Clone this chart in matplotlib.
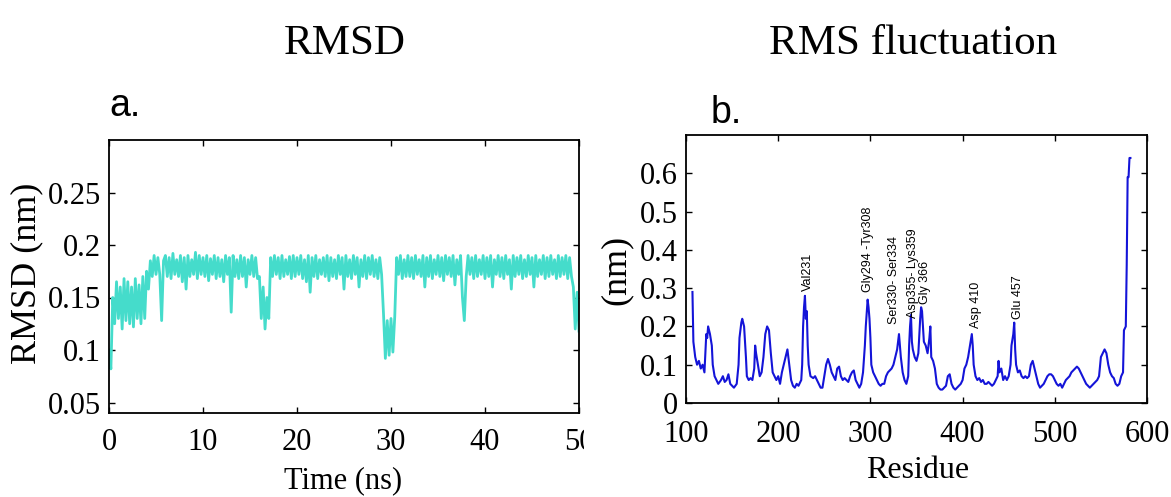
import numpy as np
import matplotlib.pyplot as plt
from matplotlib.patches import Rectangle

# RMSD trace, one value every 0.2 ns
rmsd_nm = [
    0.100, 0.082, 0.150, 0.125, 0.165, 0.130, 0.160, 0.120, 0.168, 0.128,
    0.165, 0.125, 0.160, 0.122, 0.168, 0.130, 0.162, 0.125, 0.170, 0.130,
    0.175, 0.158, 0.185, 0.170, 0.190, 0.172, 0.188, 0.172, 0.128, 0.185,
    0.190, 0.170, 0.188, 0.168, 0.192, 0.172, 0.186, 0.170, 0.190, 0.165,
    0.188, 0.158, 0.190, 0.170, 0.186, 0.172, 0.193, 0.168, 0.190, 0.172,
    0.188, 0.170, 0.190, 0.166, 0.187, 0.172, 0.190, 0.168, 0.188, 0.170,
    0.186, 0.165, 0.190, 0.172, 0.188, 0.136, 0.190, 0.170, 0.186, 0.168,
    0.190, 0.170, 0.188, 0.160, 0.186, 0.172, 0.190, 0.170, 0.188, 0.168,
    0.170, 0.130, 0.160, 0.120, 0.150, 0.130, 0.188, 0.170, 0.190, 0.172,
    0.188, 0.168, 0.190, 0.170, 0.186, 0.172, 0.189, 0.168, 0.190, 0.170,
    0.188, 0.172, 0.190, 0.168, 0.186, 0.165, 0.190, 0.155, 0.188, 0.170,
    0.190, 0.168, 0.186, 0.172, 0.188, 0.170, 0.190, 0.166, 0.188, 0.170,
    0.186, 0.168, 0.190, 0.172, 0.188, 0.158, 0.190, 0.170, 0.186, 0.168,
    0.190, 0.172, 0.188, 0.160, 0.186, 0.170, 0.190, 0.168, 0.188, 0.172,
    0.190, 0.170, 0.186, 0.168, 0.188, 0.172, 0.135, 0.092, 0.128, 0.095,
    0.130, 0.098, 0.132, 0.188, 0.172, 0.190, 0.168, 0.186, 0.170, 0.190,
    0.170, 0.188, 0.168, 0.190, 0.172, 0.186, 0.170, 0.190, 0.160, 0.188,
    0.170, 0.190, 0.168, 0.186, 0.172, 0.190, 0.170, 0.188, 0.166, 0.190,
    0.172, 0.188, 0.170, 0.190, 0.162, 0.186, 0.172, 0.190, 0.150, 0.128,
    0.170, 0.190, 0.172, 0.188, 0.168, 0.190, 0.170, 0.186, 0.172, 0.190,
    0.168, 0.188, 0.170, 0.190, 0.160, 0.186, 0.172, 0.190, 0.170, 0.188,
    0.168, 0.190, 0.172, 0.186, 0.158, 0.190, 0.170, 0.188, 0.172, 0.190,
    0.168, 0.186, 0.170, 0.190, 0.172, 0.188, 0.160, 0.190, 0.170, 0.186,
    0.172, 0.190, 0.168, 0.188, 0.170, 0.190, 0.172, 0.186, 0.168, 0.190,
    0.170, 0.188, 0.172, 0.190, 0.168, 0.188, 0.170, 0.160, 0.120, 0.155,
    0.118,
]
time_ns = np.arange(len(rmsd_nm)) * 0.2

# RMS fluctuation per residue
residue = [
    107, 108, 110, 112, 114, 116, 118, 120, 122, 123, 124, 126, 128, 129, 131, 133,
    135, 138, 140, 142, 144, 146, 148, 150, 152, 155, 157, 158, 160, 161, 163, 165,
    166, 168, 170, 172, 174, 175, 176, 178, 180, 182, 184, 186, 188, 190, 192, 194,
    196, 198, 200, 202, 204, 206, 208, 210, 212, 214, 216, 218, 220, 222, 225, 226,
    227, 228, 229, 230, 231, 232, 233, 235, 238, 240, 242, 244, 246, 248, 250, 252,
    254, 256, 258, 260, 262, 264, 266, 268, 270, 272, 274, 276, 278, 280, 282, 284,
    286, 288, 290, 292, 294, 295, 297, 298, 299, 300, 301, 303, 305, 307, 309, 311,
    313, 315, 317, 319, 321, 323, 325, 327, 329, 331, 332, 333, 335, 337, 339, 341,
    342, 343, 344, 345, 346, 348, 350, 352, 354, 355, 356, 357, 358, 360, 362, 364,
    365, 366, 368, 370, 372, 374, 376, 378, 380, 382, 384, 386, 388, 390, 392, 394,
    396, 398, 400, 402, 404, 406, 408, 410, 411, 412, 414, 416, 418, 420, 422, 424,
    426, 428, 430, 432, 434, 436, 438, 439, 440, 442, 444, 446, 448, 450, 452, 453,
    455, 456, 457, 458, 460, 462, 464, 466, 468, 470, 472, 474, 476, 478, 480, 482,
    484, 486, 488, 490, 492, 494, 496, 498, 500, 502, 504, 506, 508, 510, 512, 514,
    516, 518, 520, 522, 524, 526, 528, 530, 532, 534, 536, 538, 540, 542, 544, 546,
    548, 550, 552, 554, 556, 558, 560, 562, 564, 566, 568, 570, 572, 574, 575, 577,
    578, 579, 580, 581, 582,
]
rmsf_nm = [
    0.29, 0.16, 0.12, 0.10, 0.11, 0.09, 0.10, 0.08, 0.18, 0.17, 0.20, 0.18, 0.15, 0.10, 0.07, 0.06,
    0.05, 0.06, 0.07, 0.055, 0.06, 0.075, 0.05, 0.045, 0.04, 0.05, 0.10, 0.17, 0.21, 0.22, 0.20, 0.12,
    0.07, 0.06, 0.065, 0.06, 0.09, 0.15, 0.13, 0.10, 0.07, 0.08, 0.12, 0.18, 0.20, 0.19, 0.13, 0.08,
    0.07, 0.06, 0.07, 0.05, 0.08, 0.10, 0.12, 0.14, 0.10, 0.06, 0.045, 0.04, 0.05, 0.045, 0.06, 0.10,
    0.20, 0.25, 0.28, 0.22, 0.24, 0.15, 0.10, 0.07, 0.065, 0.07, 0.06, 0.05, 0.04, 0.04, 0.07, 0.10,
    0.115, 0.10, 0.08, 0.07, 0.06, 0.09, 0.095, 0.07, 0.06, 0.065, 0.06, 0.055, 0.07, 0.08, 0.085, 0.06,
    0.05, 0.04, 0.05, 0.08, 0.15, 0.20, 0.27, 0.25, 0.22, 0.17, 0.10, 0.08, 0.07, 0.06, 0.05, 0.045,
    0.05, 0.05, 0.07, 0.08, 0.085, 0.09, 0.10, 0.12, 0.14, 0.18, 0.15, 0.12, 0.08, 0.06, 0.05, 0.07,
    0.15, 0.20, 0.23, 0.16, 0.14, 0.12, 0.11, 0.13, 0.22, 0.25, 0.24, 0.20, 0.16, 0.15, 0.13, 0.17,
    0.20, 0.12, 0.11, 0.09, 0.05, 0.04, 0.035, 0.035, 0.04, 0.045, 0.07, 0.075, 0.05, 0.04, 0.035, 0.04,
    0.045, 0.05, 0.06, 0.09, 0.10, 0.12, 0.15, 0.18, 0.15, 0.10, 0.07, 0.06, 0.065, 0.055, 0.06, 0.05,
    0.05, 0.055, 0.05, 0.045, 0.05, 0.06, 0.07, 0.11, 0.08, 0.09, 0.06, 0.07, 0.06, 0.07, 0.10, 0.15,
    0.18, 0.21, 0.14, 0.10, 0.08, 0.085, 0.07, 0.065, 0.07, 0.065, 0.07, 0.10, 0.11, 0.09, 0.07, 0.05,
    0.04, 0.045, 0.05, 0.06, 0.07, 0.075, 0.075, 0.07, 0.06, 0.05, 0.045, 0.05, 0.04, 0.05, 0.06, 0.065,
    0.07, 0.08, 0.085, 0.09, 0.095, 0.09, 0.08, 0.07, 0.06, 0.05, 0.045, 0.04, 0.045, 0.05, 0.055, 0.06,
    0.07, 0.12, 0.13, 0.14, 0.13, 0.10, 0.08, 0.07, 0.065, 0.05, 0.045, 0.05, 0.07, 0.08, 0.19, 0.20,
    0.36, 0.59, 0.59, 0.64, 0.64,
]

# peak labels: text, residue, bottom of text (nm)
peak_labels = ['Val231', 'Gly294 -Tyr308', 'Ser330- Ser334', 'Asp355- Lys359',
               'Gly 366', 'Asp 410', 'Glu 457']
peak_x = [232, 297, 326, 346.5, 359.5, 414, 460.5]
peak_y = [0.293, 0.29, 0.207, 0.222, 0.258, 0.195, 0.22]

W, H = 1171, 497
fig = plt.figure(figsize=(W / 100, H / 100), dpi=100)
serif = 'Liberation Serif'
sans = 'Liberation Sans'


def px(x, y):
    return x / W, 1 - y / H


def style(ax):
    ax.tick_params(direction='in', length=4, width=1, top=True, right=True,
                   labelsize=22)
    for lab in ax.get_xticklabels() + ax.get_yticklabels():
        lab.set_family(serif)
    for s in ax.spines.values():
        s.set_linewidth(1.3)


# a. RMSD
ax1 = fig.add_axes([109 / W, 1 - 413 / H, 470 / W, 273 / H])
ax1.plot(time_ns, rmsd_nm, color='#45DCCB', lw=2.0)
ax1.set_xlim(0, 50)
ax1.set_ylim(0.04, 0.3)
ax1.set_xticks([0, 10, 20, 30, 40, 50])
ax1.set_yticks([0.05, 0.1, 0.15, 0.2, 0.25])
ax1.set_yticklabels(['0.05', '0.1', '0.15', '0.2', '0.25'])
style(ax1)
ax1.tick_params(axis='x', pad=11)
ax1.tick_params(axis='y', pad=6)

# b. RMS fluctuation
ax2 = fig.add_axes([686 / W, 1 - 403 / H, 461 / W, 268 / H])
ax2.plot(residue, rmsf_nm, color='#1414D8', lw=1.5)
ax2.set_xlim(100, 600)
ax2.set_ylim(0, 0.7)
ax2.set_xticks([100, 200, 300, 400, 500, 600])
ax2.set_yticks([0, 0.1, 0.2, 0.3, 0.4, 0.5, 0.6])
ax2.set_yticklabels(['0', '0.1', '0.2', '0.3', '0.4', '0.5', '0.6'])
style(ax2)
ax2.tick_params(axis='x', pad=12)
ax2.tick_params(axis='y', pad=6)
for lab, x, y in zip(peak_labels, peak_x, peak_y):
    ax2.text(x, y, lab, rotation=90, ha='center', va='bottom', fontsize=9,
             family=sans, color='black')

# titles, panel letters, axis labels
fig.text(*px(345, 44), 'RMSD', family=serif, fontsize=31, ha='center', va='center')
fig.text(*px(913, 44), 'RMS fluctuation', family=serif, fontsize=31, ha='center', va='center')
fig.text(*px(109, 116), 'a.', family=sans, fontsize=27, ha='left', va='baseline')
fig.text(*px(711, 123), 'b.', family=sans, fontsize=27, ha='left', va='baseline')
fig.text(*px(27, 273), 'RMSD (nm)', family=serif, fontsize=26, rotation=90,
         ha='center', va='center')
fig.text(*px(343, 481), 'Time (ns)', family=serif, fontsize=22, ha='center', va='center')
fig.text(*px(616, 270), '(nm)', family=serif, fontsize=26, rotation=90,
         ha='center', va='center')
fig.text(*px(918, 470), 'Residue', family=serif, fontsize=23, ha='center', va='center')

# the "50" label is cut off in the original
fig.patches.append(Rectangle(px(584, 470), 30 / W, 45 / H, transform=fig.transFigure,
                             facecolor='white', edgecolor='none', zorder=10))

fig.savefig('out.png', dpi=100)
